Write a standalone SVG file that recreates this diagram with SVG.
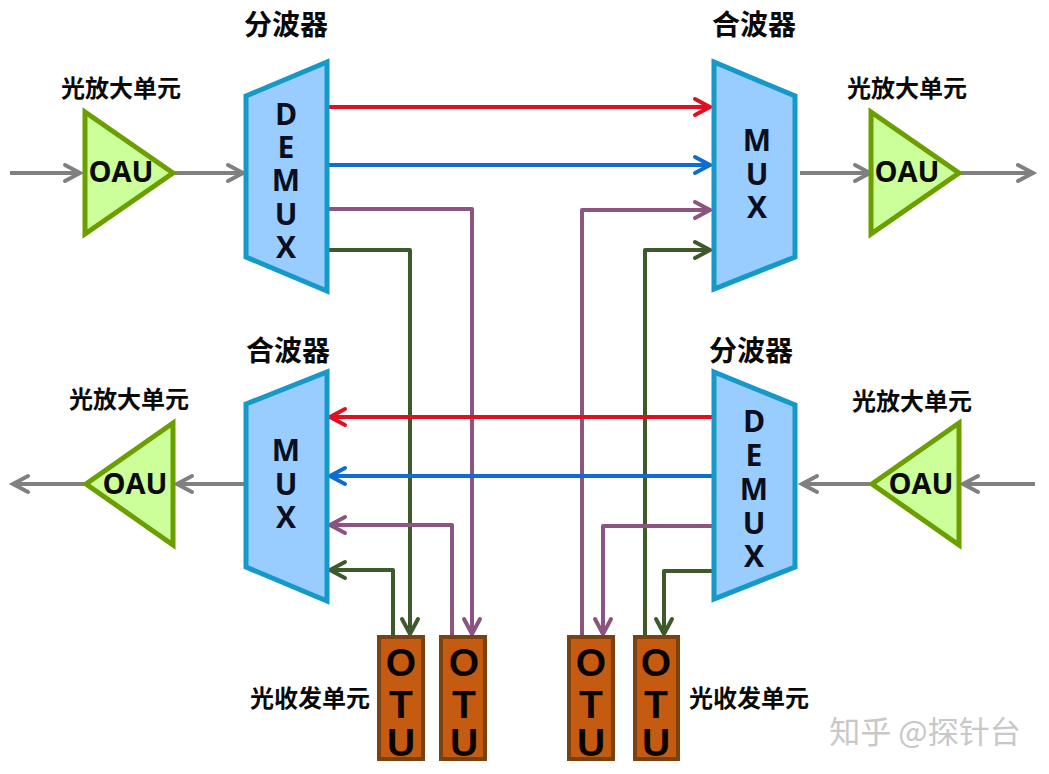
<svg xmlns="http://www.w3.org/2000/svg" width="1049" height="774" viewBox="0 0 1049 774">
<style>
.cjk{font-family:"Noto Sans CJK SC","Liberation Sans",sans-serif;font-weight:700;fill:#0a0a0a;text-anchor:middle}
.t20{font-size:24px}.t24{font-size:28px}
.lat{font-family:"Open Sans","Liberation Sans",sans-serif;font-weight:700;fill:#0a0f1e;text-anchor:middle;font-size:30px}
.oa{font-size:29px;fill:#0a0a0a}
.ot{font-family:"Liberation Sans",Arial,sans-serif;font-weight:700;fill:#0a0505;text-anchor:middle;font-size:39px}
.oau{fill:#ccff99;stroke:#6b9f00;stroke-width:5}
.box{fill:#99ccff;stroke:#1499c8;stroke-width:5}
.otu{fill:#c55a11;stroke:#7a4212;stroke-width:4}
.ln{fill:none;stroke-width:4;stroke-linejoin:round}
.g{stroke:#808080}.r{stroke:#e01020}.b{stroke:#0f6cd0}.p{stroke:#8c5480}.d{stroke:#3f5a2a}
</style>
<defs>
<marker id="m" markerUnits="userSpaceOnUse" markerWidth="24" markerHeight="24" refX="0" refY="0" viewBox="-20 -12 24 24" orient="auto" overflow="visible"><path d="M-15-8 L0 0 L-15 8" fill="none" stroke-width="4" stroke-linecap="round" stroke="context-stroke"/></marker>
</defs>
<rect width="1049" height="774" fill="#fff"/>
<g id="connectors" marker-end="url(#m)">
<path class="ln g" d="M10 173H80"/><path class="ln g" d="M175 173H243"/>
<path class="ln g" d="M800 173H870"/><path class="ln g" d="M960 173H1033"/>
<path class="ln g" d="M244 484H177"/><path class="ln g" d="M84 484H13"/>
<path class="ln g" d="M870 484H802"/><path class="ln g" d="M1035 484H963"/>
<path class="ln r" d="M328 107H710"/><path class="ln b" d="M328 165H710"/>
<path class="ln p" d="M328 209H472V634"/><path class="ln d" d="M328 250H410V634"/>
<path class="ln p" d="M582 636V210H710"/><path class="ln d" d="M645 636V250H710"/>
<path class="ln r" d="M712 417H330"/><path class="ln b" d="M712 476H330"/>
<path class="ln p" d="M452 636V525H330"/><path class="ln d" d="M393 636V570H330"/>
<path class="ln p" d="M714 526H603V634"/><path class="ln d" d="M714 571H664V634"/>
</g>
<g id="oau1"><path class="oau" d="M85 112V234L173 173Z"/><text class="lat oa" x="121" y="182">OAU</text></g>
<g id="oau2"><path class="oau" d="M871 112V234L959 173Z"/><text class="lat oa" x="907" y="182">OAU</text></g>
<g id="oau3"><path class="oau" d="M173 423V545L86 484Z"/><text class="lat oa" x="135" y="494">OAU</text></g>
<g id="oau4"><path class="oau" d="M959 423V545L872 484Z"/><text class="lat oa" x="921" y="494">OAU</text></g>
<g id="demux1"><path class="box" d="M246 96L327 62V291L246 257Z"/>
<text class="lat"><tspan x="286" y="125">D</tspan><tspan x="286" y="158">E</tspan><tspan x="286" y="191">M</tspan><tspan x="286" y="225">U</tspan><tspan x="286" y="258">X</tspan></text></g>
<g id="mux1"><path class="box" d="M714 62L795 96V257L714 289Z"/>
<text class="lat"><tspan x="757" y="151">M</tspan><tspan x="757" y="185">U</tspan><tspan x="757" y="218">X</tspan></text></g>
<g id="mux2"><path class="box" d="M246 404L327 372V601L246 567Z"/>
<text class="lat"><tspan x="286" y="461">M</tspan><tspan x="286" y="495">U</tspan><tspan x="286" y="528">X</tspan></text></g>
<g id="demux2"><path class="box" d="M714 372L795 405V567L714 599Z"/>
<text class="lat"><tspan x="754" y="432">D</tspan><tspan x="754" y="466">E</tspan><tspan x="754" y="500">M</tspan><tspan x="754" y="534">U</tspan><tspan x="754" y="567">X</tspan></text></g>
<g id="otu1"><rect class="otu" x="379" y="637" width="44" height="122"/><text class="ot"><tspan x="401" y="676">O</tspan><tspan x="401" y="718">T</tspan><tspan x="401" y="756">U</tspan></text></g>
<g id="otu2"><rect class="otu" x="441" y="637" width="44" height="122"/><text class="ot"><tspan x="464" y="676">O</tspan><tspan x="464" y="718">T</tspan><tspan x="464" y="756">U</tspan></text></g>
<g id="otu3"><rect class="otu" x="569" y="637" width="44" height="122"/><text class="ot"><tspan x="591" y="676">O</tspan><tspan x="591" y="718">T</tspan><tspan x="591" y="756">U</tspan></text></g>
<g id="otu4"><rect class="otu" x="635" y="637" width="43" height="122"/><text class="ot"><tspan x="656" y="676">O</tspan><tspan x="656" y="718">T</tspan><tspan x="656" y="756">U</tspan></text></g>
<g id="labels">
<text class="cjk t24" x="286" y="35">分波器</text><text class="cjk t24" x="754" y="35">合波器</text>
<text class="cjk t24" x="288" y="361">合波器</text><text class="cjk t24" x="751" y="361">分波器</text>
<text class="cjk t20" x="121" y="97">光放大单元</text><text class="cjk t20" x="907" y="97">光放大单元</text>
<text class="cjk t20" x="129" y="408">光放大单元</text><text class="cjk t20" x="912" y="410">光放大单元</text>
<text class="cjk t20" x="310" y="707">光收发单元</text><text class="cjk t20" x="749" y="707">光收发单元</text>
<text x="925" y="743" font-size="31" text-anchor="middle" font-family="Noto Sans CJK SC,sans-serif" fill="#c8c8c8">知乎 @探针台</text>
</g>
</svg>
